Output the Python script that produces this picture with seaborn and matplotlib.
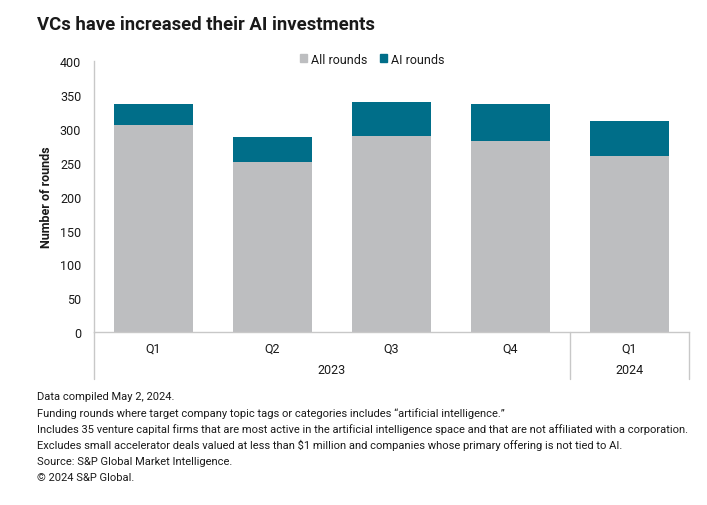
import matplotlib
matplotlib.use("Agg")
import matplotlib.pyplot as plt
import seaborn as sns
import pandas as pd
from matplotlib.patches import Patch

# ── Data ────────────────────────────────────────────────────────────────
quarters = ["Q1", "Q2", "Q3", "Q4", "Q1"]
years = ["2023", "2023", "2023", "2023", "2024"]
all_rounds = [305, 251, 290, 282, 260]
ai_rounds = [31, 37, 49, 55, 51]
y_ticks = [0, 50, 100, 150, 200, 250, 300, 350, 400]

title = "VCs have increased their AI investments"
notes = [
    "Data compiled May 2, 2024.",
    "Funding rounds where target company topic tags or categories includes \u201cartificial intelligence.\u201d",
    "Includes 35 venture capital firms that are most active in the artificial intelligence space and that are not affiliated with a corporation.",
    "Excludes small accelerator deals valued at less than $1 million and companies whose primary offering is not tied to AI.",
    "Source: S&P Global Market Intelligence.",
    "\u00a9 2024 S&P Global.",
]

GREY = "#BDBEC0"
TEAL = "#006E89"
LINE = "#C8C8C8"
TXT = "#1A1A1A"

df = pd.DataFrame({"pos": range(len(quarters)), "quarter": quarters,
                   "all": all_rounds, "ai": ai_rounds})
df["total"] = df["all"] + df["ai"]

sns.set_theme(style="white")
plt.rcParams["font.family"] = ["Roboto", "DejaVu Sans"]

W, H = 707, 506
fig = plt.figure(figsize=(W / 100, H / 100), dpi=100)
x0, x1, y0, y1 = 93.7, 689, 333.3, 62
ax = fig.add_axes([x0 / W, 1 - y0 / H, (x1 - x0) / W, (y0 - y1) / H])

sns.barplot(data=df, x="pos", y="total", color=TEAL, width=0.665,
            saturation=1, ax=ax, order=list(range(5)), linewidth=0)
sns.barplot(data=df, x="pos", y="all", color=GREY, width=0.665,
            saturation=1, ax=ax, order=list(range(5)), linewidth=0)

ax.set_xlim(-0.5, 4.5)
ax.set_ylim(0, 400)
ax.set_yticks(y_ticks)
ax.set_yticklabels([str(v) for v in y_ticks], fontsize=9, color=TXT)
ax.set_xticks(range(5))
ax.set_xticklabels(quarters, fontsize=9, color=TXT)
ax.tick_params(axis="x", length=0, pad=7)
ax.tick_params(axis="y", length=0, pad=9)
ax.set_xlabel("")
ax.set_ylabel("Number of rounds", fontsize=9, fontweight="bold", color=TXT,
              labelpad=5)

for s in ["top", "right"]:
    ax.spines[s].set_visible(False)
for s in ["left", "bottom"]:
    ax.spines[s].set_color(LINE)
    ax.spines[s].set_linewidth(1)

# category group separators below the axis
ext = -(380 - y0) / (y0 - y1)
tr = ax.get_xaxis_transform()
for xv in [-0.5, 3.5, 4.5]:
    ax.plot([xv, xv], [0, ext], transform=tr, color=LINE, lw=1, clip_on=False)
ax.text(1.5, -(371 - y0) / (y0 - y1), "2023", transform=tr, ha="center",
        va="center", fontsize=9, color=TXT)
ax.text(4, -(371 - y0) / (y0 - y1), "2024", transform=tr, ha="center",
        va="center", fontsize=9, color=TXT)

handles = [Patch(color=GREY, label="All rounds"), Patch(color=TEAL, label="AI rounds")]
fig.legend(handles=handles, loc="center", bbox_to_anchor=(372 / W, 1 - 60 / H),
           ncol=2, frameon=False, fontsize=9, handlelength=0.6, handleheight=0.6,
           handletextpad=0.3, columnspacing=1.0, labelcolor=TXT)

fig.text(37 / W, 1 - 25 / H, title, fontsize=13.3, fontweight="bold",
         color=TXT, va="center", ha="left")

for i, line in enumerate(notes):
    fig.text(37 / W, 1 - (397 + i * 16.2) / H, line, fontsize=8, color=TXT,
             va="center", ha="left")

fig.savefig("out.png", dpi=100, facecolor="white")
